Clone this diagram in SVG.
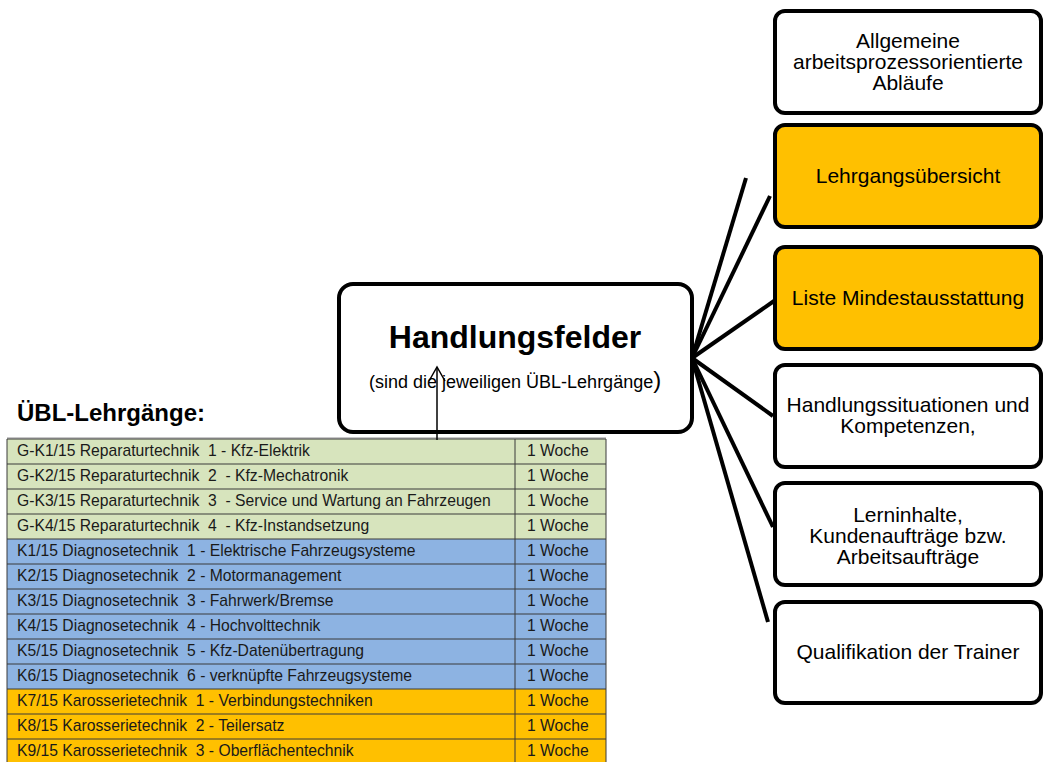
<svg xmlns="http://www.w3.org/2000/svg" width="1044" height="762" viewBox="0 0 1044 762">
<style>
.box{stroke:#000;stroke-width:4;}
.w{fill:#fff;}
.o{fill:#FFC000;}
.bt{font-family:"Liberation Sans",Arial,sans-serif;font-size:21px;fill:#000;text-anchor:middle;}
.tt{font-family:"Liberation Sans",Arial,sans-serif;font-size:15.7px;fill:#1a1a1a;}
.g{fill:#D7E4BD;}
.b{fill:#8DB3E2;}
.ro{fill:#FFC000;}
.grid{stroke:#3a3a3a;stroke-width:1;fill:none;}
.con{stroke:#000;stroke-width:4;stroke-linecap:butt;fill:none;}
</style>
<rect width="1044" height="762" fill="#fff"/>

<g id="table">
  <line x1="7" y1="438" x2="606" y2="438" stroke="#c8c8c8" stroke-width="2"/>
  <rect class="g" x="7" y="439" width="599" height="100"/>
  <rect class="b" x="7" y="539" width="599" height="150"/>
  <rect class="ro" x="7" y="689" width="599" height="75"/>
  <g class="grid">
    <line x1="7" y1="439" x2="606" y2="439"/>
    <line x1="7" y1="464" x2="606" y2="464"/>
    <line x1="7" y1="489" x2="606" y2="489"/>
    <line x1="7" y1="514" x2="606" y2="514"/>
    <line x1="7" y1="539" x2="606" y2="539"/>
    <line x1="7" y1="564" x2="606" y2="564"/>
    <line x1="7" y1="589" x2="606" y2="589"/>
    <line x1="7" y1="614" x2="606" y2="614"/>
    <line x1="7" y1="639" x2="606" y2="639"/>
    <line x1="7" y1="664" x2="606" y2="664"/>
    <line x1="7" y1="689" x2="606" y2="689"/>
    <line x1="7" y1="714" x2="606" y2="714"/>
    <line x1="7" y1="739" x2="606" y2="739"/>
    <line x1="7" y1="439" x2="7" y2="762"/>
    <line x1="515" y1="439" x2="515" y2="762"/>
    <line x1="606" y1="439" x2="606" y2="762"/>
  </g>
  <g class="tt">
    <text x="17" y="456" xml:space="preserve">G-K1/15 Reparaturtechnik  1 - Kfz-Elektrik</text>
    <text x="17" y="481" xml:space="preserve">G-K2/15 Reparaturtechnik  2  - Kfz-Mechatronik</text>
    <text x="17" y="506" xml:space="preserve">G-K3/15 Reparaturtechnik  3  - Service und Wartung an Fahrzeugen</text>
    <text x="17" y="531" xml:space="preserve">G-K4/15 Reparaturtechnik  4  - Kfz-Instandsetzung</text>
    <text x="17" y="556" xml:space="preserve">K1/15 Diagnosetechnik  1 - Elektrische Fahrzeugsysteme</text>
    <text x="17" y="581" xml:space="preserve">K2/15 Diagnosetechnik  2 - Motormanagement</text>
    <text x="17" y="606" xml:space="preserve">K3/15 Diagnosetechnik  3 - Fahrwerk/Bremse</text>
    <text x="17" y="631" xml:space="preserve">K4/15 Diagnosetechnik  4 - Hochvolttechnik</text>
    <text x="17" y="656" xml:space="preserve">K5/15 Diagnosetechnik  5 - Kfz-Datenübertragung</text>
    <text x="17" y="681" xml:space="preserve">K6/15 Diagnosetechnik  6 - verknüpfte Fahrzeugsysteme</text>
    <text x="17" y="706" xml:space="preserve">K7/15 Karosserietechnik  1 - Verbindungstechniken</text>
    <text x="17" y="731" xml:space="preserve">K8/15 Karosserietechnik  2 - Teilersatz</text>
    <text x="17" y="756" xml:space="preserve">K9/15 Karosserietechnik  3 - Oberflächentechnik</text>
    <text x="527" y="456">1 Woche</text>
    <text x="527" y="481">1 Woche</text>
    <text x="527" y="506">1 Woche</text>
    <text x="527" y="531">1 Woche</text>
    <text x="527" y="556">1 Woche</text>
    <text x="527" y="581">1 Woche</text>
    <text x="527" y="606">1 Woche</text>
    <text x="527" y="631">1 Woche</text>
    <text x="527" y="656">1 Woche</text>
    <text x="527" y="681">1 Woche</text>
    <text x="527" y="706">1 Woche</text>
    <text x="527" y="731">1 Woche</text>
    <text x="527" y="756">1 Woche</text>
  </g>
</g>

<g id="title-uebl">
  <text x="17" y="421" font-family="Liberation Sans,Arial,sans-serif" font-size="24" font-weight="bold" fill="#000">ÜBL-Lehrgänge:</text>
</g>

<g id="handlungsfelder">
  <rect class="box w" x="339" y="284" width="353" height="148" rx="14"/>
  <text x="515" y="348" font-family="Liberation Sans,Arial,sans-serif" font-size="32" font-weight="bold" text-anchor="middle" fill="#000">Handlungsfelder</text>
  <text x="369" y="388" font-family="Liberation Sans,Arial,sans-serif" font-size="18" fill="#000">(sind die jeweiligen ÜBL-Lehrgänge<tspan font-size="24">)</tspan></text>
</g>

<g id="node-allgemeine">
  <rect class="box w" x="775" y="11" width="266" height="102" rx="10"/>
  <text class="bt" x="908" y="48">Allgemeine</text>
  <text class="bt" x="908" y="69">arbeitsprozessorientierte</text>
  <text class="bt" x="908" y="90">Abläufe</text>
</g>
<g id="node-lehrgangsuebersicht">
  <rect class="box o" x="775" y="125" width="266" height="102" rx="10"/>
  <text class="bt" x="908" y="183">Lehrgangsübersicht</text>
</g>
<g id="node-mindestausstattung">
  <rect class="box o" x="775" y="247" width="266" height="102" rx="10"/>
  <text class="bt" x="908" y="305">Liste Mindestausstattung</text>
</g>
<g id="node-handlungssituationen">
  <rect class="box w" x="775" y="365" width="266" height="102" rx="10"/>
  <text class="bt" x="908" y="412">Handlungssituationen und</text>
  <text class="bt" x="908" y="433">Kompetenzen,</text>
</g>
<g id="node-lerninhalte">
  <rect class="box w" x="775" y="483" width="266" height="102" rx="10"/>
  <text class="bt" x="908" y="522">Lerninhalte,</text>
  <text class="bt" x="908" y="543">Kundenaufträge bzw.</text>
  <text class="bt" x="908" y="564">Arbeitsaufträge</text>
</g>
<g id="node-qualifikation">
  <rect class="box w" x="775" y="602" width="266" height="101" rx="10"/>
  <text class="bt" x="908" y="659">Qualifikation der Trainer</text>
</g>

<g id="connectors">
  <line class="con" x1="692" y1="358" x2="746" y2="178"/>
  <line class="con" x1="692" y1="358" x2="770" y2="196"/>
  <line class="con" x1="692" y1="358" x2="774" y2="301"/>
  <line class="con" x1="692" y1="358" x2="773" y2="416"/>
  <line class="con" x1="692" y1="358" x2="773" y2="527"/>
  <line class="con" x1="692" y1="358" x2="768" y2="622"/>
  <g stroke="#000" stroke-width="1.5" fill="none">
    <line x1="437" y1="440" x2="437" y2="367"/>
    <polyline points="429,381 437,367 445,381"/>
  </g>
</g>
</svg>
